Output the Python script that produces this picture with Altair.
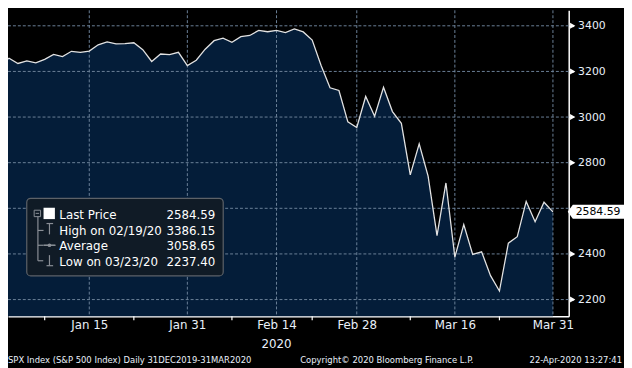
import altair as alt
import pandas as pd

# ---------------- data ----------------
dates = [
    "2019-12-31",
    "2020-01-02", "2020-01-03", "2020-01-06", "2020-01-07", "2020-01-08", "2020-01-09", "2020-01-10",
    "2020-01-13", "2020-01-14", "2020-01-15", "2020-01-16", "2020-01-17", "2020-01-21", "2020-01-22",
    "2020-01-23", "2020-01-24", "2020-01-27", "2020-01-28", "2020-01-29", "2020-01-30", "2020-01-31",
    "2020-02-03", "2020-02-04", "2020-02-05", "2020-02-06", "2020-02-07", "2020-02-10", "2020-02-11",
    "2020-02-12", "2020-02-13", "2020-02-14", "2020-02-18", "2020-02-19", "2020-02-20", "2020-02-21",
    "2020-02-24", "2020-02-25", "2020-02-26", "2020-02-27", "2020-02-28",
    "2020-03-02", "2020-03-03", "2020-03-04", "2020-03-05", "2020-03-06", "2020-03-09", "2020-03-10",
    "2020-03-11", "2020-03-12", "2020-03-13", "2020-03-16", "2020-03-17", "2020-03-18", "2020-03-19",
    "2020-03-20", "2020-03-23", "2020-03-24", "2020-03-25", "2020-03-26", "2020-03-27", "2020-03-30",
    "2020-03-31",
]
closes = [
    3230.78,
    3257.85, 3234.85, 3246.28, 3237.18, 3253.05, 3274.70, 3265.35,
    3288.13, 3283.15, 3289.29, 3316.81, 3329.62, 3320.79, 3321.75,
    3325.54, 3295.47, 3243.63, 3276.24, 3273.40, 3283.66, 3225.52,
    3248.92, 3297.59, 3334.69, 3345.78, 3327.71, 3352.09, 3357.75,
    3379.45, 3373.94, 3380.16, 3370.29, 3386.15, 3373.23, 3337.75,
    3225.89, 3128.21, 3116.39, 2978.76, 2954.22,
    3090.23, 3003.37, 3130.12, 3023.94, 2972.37, 2746.56, 2882.23,
    2741.38, 2480.64, 2711.02, 2386.13, 2529.19, 2398.10, 2409.39,
    2304.92, 2237.40, 2447.33, 2475.56, 2630.07, 2541.47, 2626.65,
    2584.59,
]

x_tick_dates = ["2020-01-15", "2020-01-31", "2020-02-14", "2020-02-28", "2020-03-16", "2020-03-31"]
x_tick_labels = ["Jan 15", "Jan 31", "Feb 14", "Feb 28", "Mar 16", "Mar 31"]
x_minor_dates = ["2020-01-08", "2020-01-23", "2020-02-07", "2020-02-21", "2020-03-09", "2020-03-23"]
year_label = "2020"
year_under = "2020-02-14"

y_major = [2200, 2400, 2600, 2800, 3000, 3200, 3400]
y_minor = [2300, 2500, 2700, 2900, 3100, 3300]

legend_labels = ["Last Price", "High on 02/19/20", "Average", "Low on 03/23/20"]
legend_values = ["2584.59", "3386.15", "3058.65", "2237.40"]
last_price_label = "2584.59"

footer_left = "SPX Index (S&P 500 Index)  Daily 31DEC2019-31MAR2020"
footer_mid = "Copyright\u00a9 2020 Bloomberg Finance L.P."
footer_right = "22-Apr-2020 13:27:41"

# ---------------- layout / style ----------------
W, H = 568, 310
NAVY = "#041d39"
GRID = "#6c8198"
TXT = "#e9f0fa"
FONT = "DejaVu Sans"

idx = {d: i for i, d in enumerate(dates)}
df = pd.DataFrame({"i": list(range(len(dates))), "close": closes})
last = closes[-1]

xscale = alt.Scale(domain=[0.8857, 63.77], nice=False, zero=False)
yscale = alt.Scale(domain=[2126.5, 3467.9], nice=False, zero=False)

label_idx = [idx[d] for d in x_tick_dates]
expr = "''"
for i, lab in reversed(list(zip(label_idx, x_tick_labels))):
    expr = f"datum.value == {i} ? '{lab}' : ({expr})"

x_axis = alt.Axis(
    values=label_idx, labelExpr=expr, ticks=False, tickSize=0, grid=False,
    domainColor="white", domainWidth=1.5, labelColor=TXT, labelFont=FONT,
    labelFontSize=12, labelPadding=3, labelOverlap=False, labelBound=False,
    labelFlush=False, title=None,
)
y_axis = alt.Axis(
    orient="right", values=sorted(y_major + y_minor), format="d",
    labelExpr=f"(datum.value % 200 == 0 && abs(datum.value - {last}) > 60) ? datum.label : ''",
    tickSize=5, tickColor="white", tickWidth=1, domainColor="white", domainWidth=1.5,
    grid=False, labelColor=TXT, labelFont=FONT, labelFontSize=11, labelPadding=4,
    labelBound=False, labelFlush=False, title=None,
)

area = alt.Chart(df).mark_area(clip=True, color=NAVY, opacity=1).encode(
    x=alt.X("i:Q", scale=xscale, axis=x_axis),
    y=alt.Y("close:Q", scale=yscale, axis=y_axis),
)
line = alt.Chart(df).mark_line(clip=True, color="#e2e2e2", strokeWidth=1.3).encode(
    x=alt.X("i:Q", scale=xscale),
    y=alt.Y("close:Q", scale=yscale),
)

grid_h = alt.Chart(pd.DataFrame({"v": y_major})).mark_rule(
    color=GRID, strokeDash=[3, 2], strokeWidth=1
).encode(y=alt.Y("v:Q", scale=yscale))
grid_v = alt.Chart(pd.DataFrame({"i": label_idx})).mark_rule(
    color=GRID, strokeDash=[3, 2], strokeWidth=1
).encode(x=alt.X("i:Q", scale=xscale))

minor_x = alt.Chart(pd.DataFrame({"i": [idx[d] for d in x_minor_dates]})).mark_rule(
    color="white", strokeWidth=1.2
).encode(x=alt.X("i:Q", scale=xscale), y=alt.value(H), y2=alt.value(H + 4))

tri_vals = [v for v in y_major if abs(v - last) > 60]
tri = alt.Chart(pd.DataFrame({"v": tri_vals})).mark_point(
    shape="triangle-right", filled=True, color="white", size=38, opacity=1
).encode(y=alt.Y("v:Q", scale=yscale), x=alt.value(W + 4))

last_df = pd.DataFrame({"v": [last], "t": [last_price_label]})
price_box = alt.Chart(last_df).mark_point(
    shape="M-1,0L-0.82,-0.25L1,-0.25L1,0.25L-0.82,0.25Z",
    filled=True, color="white", size=3249, opacity=1,
).encode(y=alt.Y("v:Q", scale=yscale), x=alt.value(W + 27.5))
price_txt = alt.Chart(last_df).mark_text(
    align="left", baseline="middle", font=FONT, fontSize=11, color="black"
).encode(y=alt.Y("v:Q", scale=yscale), x=alt.value(W + 7), text="t:N")

year_txt = alt.Chart(pd.DataFrame({"i": [idx[year_under]], "t": [year_label]})).mark_text(
    align="center", baseline="middle", font=FONT, fontSize=12, color=TXT
).encode(x=alt.X("i:Q", scale=xscale), y=alt.value(H + 28), text="t:N")

# legend panel (decorative, pixel positioned)
leg_box = alt.Chart(pd.DataFrame({"a": [0]})).mark_rect(
    fill="#101b26", stroke="#5d6268", strokeWidth=1.2, cornerRadius=4
).encode(x=alt.value(19), x2=alt.value(218), y=alt.value(190.5), y2=alt.value(269))

segs = pd.DataFrame({
    "x":  [30.3, 28.0, 36.0, 30.3, 30.3, 30.3, 39.0, 42.0, 36.0, 42.0, 39.0],
    "x2": [30.3, 32.5, 48.0, 36.0, 35.7, 35.7, 45.7, 42.0, 48.0, 42.0, 45.7],
    "y":  [208.7, 205.7, 238.0, 223.0, 238.0, 253.7, 216.0, 216.0, 238.0, 248.0, 258.7],
    "y2": [253.7, 205.7, 238.0, 223.0, 238.0, 253.7, 216.0, 227.0, 238.0, 258.7, 258.7],
})
leg_lines = alt.Chart(segs).mark_rule(color="#8a8f96", strokeWidth=1.2).encode(
    x=alt.X("x:Q", scale=None), x2="x2:Q", y=alt.Y("y:Q", scale=None), y2="y2:Q"
)
minus_box = alt.Chart(pd.DataFrame({"a": [0]})).mark_rect(
    fill="#101b26", stroke="#8a8f96", strokeWidth=1
).encode(x=alt.value(26.5), x2=alt.value(33), y=alt.value(202.5), y2=alt.value(209))
minus_line = alt.Chart(pd.DataFrame({"a": [0]})).mark_rule(color="#8a8f96", strokeWidth=1).encode(
    x=alt.value(28), x2=alt.value(31.5), y=alt.value(205.7)
)
avg_dot = alt.Chart(pd.DataFrame({"a": [0]})).mark_point(
    shape="circle", filled=True, color="#8a8f96", size=14, opacity=1
).encode(x=alt.value(42), y=alt.value(238))
white_sq = alt.Chart(pd.DataFrame({"a": [0]})).mark_rect(fill="white").encode(
    x=alt.value(36), x2=alt.value(47.5), y=alt.value(200), y2=alt.value(211.5)
)

leg_df = pd.DataFrame({"r": list(range(4)), "label": legend_labels, "value": legend_values})
leg_lab = alt.Chart(leg_df).transform_calculate(yy="207.5 + 15.7 * datum.r").mark_text(
    align="left", baseline="middle", font=FONT, fontSize=12, color="white"
).encode(x=alt.value(52), y=alt.Y("yy:Q", scale=None), text="label:N")
leg_val = alt.Chart(leg_df).transform_calculate(yy="207.5 + 15.7 * datum.r").mark_text(
    align="right", baseline="middle", font=FONT, fontSize=12, color="white"
).encode(x=alt.value(210), y=alt.Y("yy:Q", scale=None), text="value:N")

FOOT_FONT = "Liberation Sans Narrow, Arial Narrow, DejaVu Sans Condensed, Liberation Sans"
foot_y = H + 44


def foot(t, xpos, al):
    return alt.Chart(pd.DataFrame({"t": [t]})).mark_text(
        align=al, baseline="middle", font=FOOT_FONT, fontSize=9.5, color=TXT
    ).encode(x=alt.value(xpos), y=alt.value(foot_y), text="t:N")


chart = alt.layer(
    area, grid_h, grid_v, line, minor_x, tri, price_box, price_txt, year_txt,
    leg_box, leg_lines, minus_box, minus_line, avg_dot, white_sq, leg_lab, leg_val,
    foot(footer_left, 0, "left"), foot(footer_mid, 296, "left"), foot(footer_right, 622, "right"),
).properties(
    width=W, height=H, background="black",
    autosize=alt.AutoSizeParams(type="none"),
    padding={"left": 0, "top": 0, "right": 56, "bottom": 50},
).configure_view(stroke=None)

chart.save("out.html", embed_options={"renderer": "svg", "actions": False})
